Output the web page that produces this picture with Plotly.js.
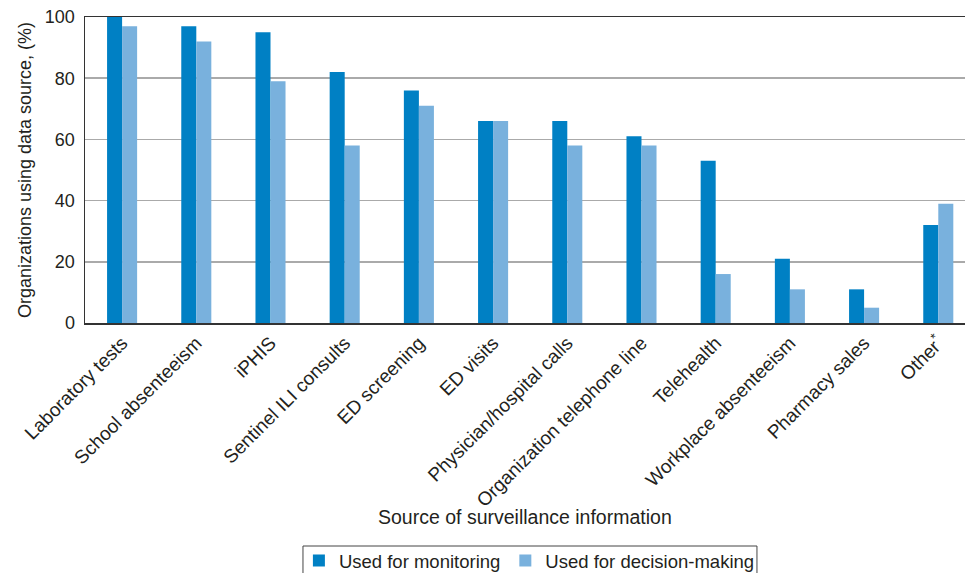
<!DOCTYPE html>
<html>
<head>
<meta charset="utf-8">
<script src="https://cdn.plot.ly/plotly-3.0.1.min.js"></script>
<style>html,body{margin:0;padding:0;background:#fff;}#chart{width:965px;height:573px;}</style>
</head>
<body>
<div id="chart"></div>
<script>
const categories = ["Laboratory tests","School absenteeism","iPHIS","Sentinel ILI consults","ED screening","ED visits","Physician/hospital calls","Organization telephone line","Telehealth","Workplace absenteeism","Pharmacy sales","Other<sup>*</sup>"];
const monitoring = [100, 97, 95, 82, 76, 66, 66, 61, 53, 21, 11, 32];
const decisionMaking = [97, 92, 79, 58, 71, 66, 58, 58, 16, 11, 5, 39];
const seriesNames = ["Used for monitoring", "Used for decision-making"];
const yTicks = [0, 20, 40, 60, 80, 100];

const txt = "#231f20";
const font = "Liberation Sans, Arial, Helvetica, sans-serif";

const traces = [
  {type: "bar", name: seriesNames[0], x: categories, y: monitoring, marker: {color: "#0080c4"}},
  {type: "bar", name: seriesNames[1], x: categories, y: decisionMaking, marker: {color: "#79b1dd"}}
];

const layout = {
  width: 965, height: 573,
  margin: {l: 85, r: 0, t: 17, b: 250, pad: 0},
  paper_bgcolor: "#fff", plot_bgcolor: "#fff",
  font: {family: font, color: txt, size: 16},
  barmode: "group", bargap: 0.595, bargroupgap: 0,
  showlegend: true,
  legend: {
    orientation: "h", xref: "paper", x: 0.505, xanchor: "center",
    yref: "container", y: 0.021, yanchor: "middle",
    borderwidth: 0, bgcolor: "rgba(0,0,0,0)", font: {size: 18.5, color: txt},
    itemwidth: 30, traceorder: "normal"
  },
  shapes: [{
    type: "rect", xref: "paper", yref: "paper",
    x0: 0.2477, x1: 0.7636, y0: -0.7288, y1: -0.8235,
    line: {color: "#444", width: 1}, fillcolor: "rgba(0,0,0,0)"
  }],
  annotations: [{
    text: "Source of surveillance information", xref: "paper", yref: "paper",
    x: 0.5, y: -0.634, xanchor: "center", yanchor: "middle", showarrow: false,
    font: {size: 19.5, color: txt}
  }],
  xaxis: {
    type: "category", range: [-0.5, 11.36], autorange: false,
    showline: true, linecolor: "#333", linewidth: 1.5, mirror: true,
    ticks: "", tickangle: -45, tickfont: {size: 19, color: txt},
    showgrid: false, automargin: false
  },
  yaxis: {
    range: [0, 100], autorange: false, tickvals: yTicks,
    showline: true, linecolor: "#333", linewidth: 1.5,
    ticks: "", tickfont: {size: 18, color: txt}, ticklabelstandoff: 5,
    showgrid: true, gridcolor: "#aaaaaa", gridwidth: 1.5, zeroline: false,
    automargin: false,
    title: {text: "Organizations using data source, (%)", font: {size: 18, color: txt}, standoff: 8}
  }
};

Plotly.newPlot("chart", traces, layout, {staticPlot: true, displayModeBar: false});
</script>
</body>
</html>
